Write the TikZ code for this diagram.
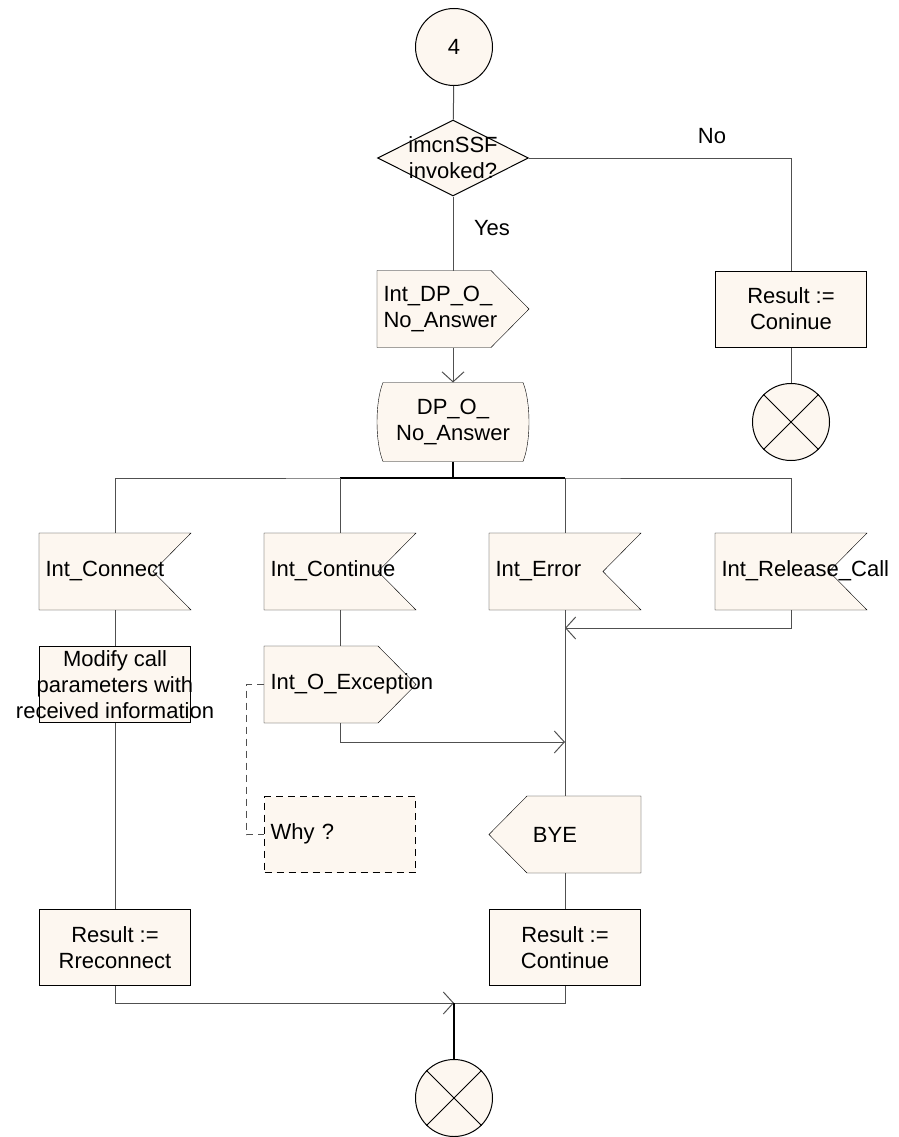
\documentclass[tikz,border=0pt]{standalone}
\usepackage{fontspec}
\setmainfont{Liberation Sans}
\usetikzlibrary{shapes.geometric,arrows.meta,backgrounds}

\definecolor{cream}{RGB}{253,247,240}
\definecolor{wire}{RGB}{80,80,80}

\begin{document}
\begin{tikzpicture}[x=1pt,y=-1pt,line width=1pt,
    every node/.style={font=\fontsize{22}{26}\selectfont},
    >={Straight Barb[length=10pt,width=22pt]},
    shp/.style={draw=black,fill=cream},
    slot/.style={rectangle,minimum width=151pt,minimum height=76pt,inner sep=0pt,align=center},
    lslot/.style={slot,text width=139pt,inner xsep=6pt,align=left},
    task/.style={slot,shp},
    term/.style={circle,shp,minimum size=77pt,inner sep=0pt},
    wire/.style={draw=wire},
    trunk/.style={draw=black,line width=1.6pt}]

\useasboundingbox (0,0) rectangle (898,1137);

% start and decision
\node[term] (start) at (454,47) {4};
\node[diamond,shp,minimum width=151pt,minimum height=76pt,inner sep=0pt,
      label={[align=center]center:imcnSSF\\invoked?}] (dec) at (453,158) {};
\node (no) at (712,136) {No};
\node (yes) at (492,228) {Yes};

% right branch
\node[task] (cont1) at (791,309) {Result :=\\Coninue};
\node[term] (stop1) at (791,422) {};

% main column
\node[lslot] (dpout) at (453,309) {Int\_DP\_O\_\\No\_Answer};
\node[slot,minimum height=78pt] (dp) at (453,422) {DP\_O\_\\No\_Answer};
\coordinate (bar) at (453,478);

% inputs
\node[lslot] (conn) at (115,571.5) {\strut Int\_Connect};
\node[lslot] (cont) at (340,571.5) {\strut Int\_Continue};
\node[lslot] (err) at (565,571.5) {\strut Int\_Error};
\node[lslot] (rel) at (791,571.5) {\strut Int\_Release\_Call};

\node[task,label={[align=center]center:Modify call\\parameters with\\received information}] (modify) at (115,684.5) {};
\node[lslot] (exc) at (340,684.5) {\strut Int\_O\_Exception};
\node[lslot,draw=black,fill=cream,dash pattern=on 7pt off 5pt] (why) at (340,834.5) {\strut Why ?};
\node[slot,label={[xshift=-10pt]center:BYE}] (bye) at (565,834.5) {};

\node[task] (res1) at (115,947.5) {Result :=\\Rreconnect};
\node[task] (res2) at (565,947.5) {Result :=\\Continue};
\coordinate (join) at (454,1003);
\node[term] (stop2) at (454,1098) {};

\coordinate (m1) at (565,742);
\coordinate (m2) at (565,628);

% shapes behind the text
\begin{scope}[on background layer]
\foreach \n in {dpout,exc}
    \draw[shp] (\n.north west) -- ([xshift=-38pt]\n.north east) -- (\n.east)
        -- ([xshift=-38pt]\n.south east) -- (\n.south west) -- cycle;
\foreach \n in {conn,cont,err,rel}
    \draw[shp] (\n.north west) -- (\n.north east) -- ([xshift=-38pt]\n.east)
        -- (\n.south east) -- (\n.south west) -- cycle;
\draw[shp] (bye.north east) -- ([xshift=38pt]bye.north west) -- (bye.west)
    -- ([xshift=38pt]bye.south west) -- (bye.south east) -- cycle;
\draw[shp] ([xshift=6pt]dp.north west) -- ([xshift=-6pt]dp.north east)
    .. controls ([xshift=2pt,yshift=20pt]dp.east) and ([xshift=2pt,yshift=-20pt]dp.east) .. ([xshift=-6pt]dp.south east)
    -- ([xshift=6pt]dp.south west)
    .. controls ([xshift=-2pt,yshift=-20pt]dp.west) and ([xshift=-2pt,yshift=20pt]dp.west) .. cycle;
\end{scope}

\foreach \n in {stop1,stop2}
    \draw (\n.north west) -- (\n.south east) (\n.north east) -- (\n.south west);

% connectors
\draw[wire] (start) -- (dec);
\draw[wire] (dec.east) -| (cont1.north);
\draw[wire] (cont1) -- (stop1);
\draw[wire] (dec.south) -- (dpout.north);
\draw[wire,->] (dpout) -- (dp);
\draw[wire] (conn.north) |- (bar) -| (rel.north);
\draw[trunk] (dp) -- (bar);
\draw[trunk] (cont |- bar) -- (err |- bar);
\foreach \n in {cont,err}
    \draw[wire] (\n.north) -- (\n |- bar);

\draw[wire] (conn) -- (modify);
\draw[wire] (modify) -- (res1);
\draw[wire] (cont) -- (exc);
\draw[wire,->] (exc.south) |- (m1);
\draw[wire,->] (rel.south) |- (m2);
\draw[wire] (err) -- (bye);
\draw[wire] (bye) -- (res2);
\draw[wire,dash pattern=on 7pt off 5pt] (exc.west) -- ++(-18,0) |- (why.west);

\draw[wire,->] (res1.south) |- (join);
\draw[wire] (res2.south) |- (join);
\draw[trunk] (join) -- (stop2);

\end{tikzpicture}
\end{document}
